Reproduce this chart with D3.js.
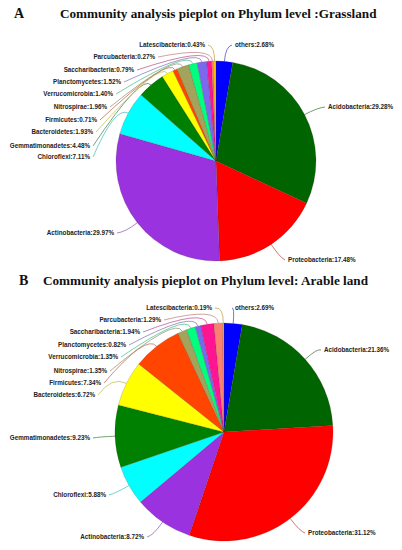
<!DOCTYPE html>
<html lang="en">
<head>
  <meta charset="UTF-8">
  <title>phylum pieplots</title>
  <script src="https://d3js.org/d3.v7.min.js"></script>
  <style>
    body { margin: 0; background: #fff; }
    .title { font-family: "Liberation Serif", "Times New Roman", serif; font-weight: bold; fill: #111; }
    .lbl { font-family: "Liberation Sans", Arial, sans-serif; font-weight: bold; font-size: 6.3px; fill: #222; }
  </style>
</head>
<body>
  <svg id="chart" width="402" height="550"></svg>

  <script>
    // data
    const phyla = ["others", "Acidobacteria", "Proteobacteria", "Actinobacteria", "Chloroflexi",
      "Gemmatimonadetes", "Bacteroidetes", "Firmicutes", "Nitrospirae", "Verrucomicrobia",
      "Planctomycetes", "Saccharibacteria", "Parcubacteria", "Latescibacteria"];
    const grassland = [2.68, 29.28, 17.48, 29.97, 7.11, 4.48, 1.93, 0.71, 1.96, 1.40, 1.52, 0.79, 0.27, 0.43];
    const arable = [2.69, 21.36, 31.12, 8.72, 5.88, 9.23, 6.72, 7.34, 1.35, 1.35, 0.82, 1.94, 1.29, 0.19];
    const colors = ["#0000FF", "#006400", "#FF0000", "#9A32E0", "#00FFFF",
      "#008000", "#FFFF00", "#FF4500", "#A3A35C", "#00FF7F",
      "#7B68EE", "#FF1493", "#FA8072", "#FFC000"];

    // label anchors [x, y, side]  (side 1 = text starts at x, -1 = text ends at x)
    const labelsA = [[235, 45, 1], [328, 107, 1], [288, 260, 1], [114, 233, -1], [90, 157, -1],
      [90, 146, -1], [93, 132, -1], [97, 120, -1], [107, 107, -1], [113, 94, -1],
      [121, 82, -1], [134, 70, -1], [155, 57, -1], [205, 45, -1]];
    const labelsB = [[235, 308, 1], [324, 350, 1], [308, 533, 1], [144, 537, -1], [106, 495, -1],
      [90, 438, -1], [95, 395, -1], [101, 383, -1], [107, 371, -1], [118, 357, -1],
      [126, 345, -1], [140, 332, -1], [161, 320, -1], [212, 308, -1]];

    const svg = d3.select("#chart");
    const color = d3.scaleOrdinal().domain(phyla).range(colors);

    // titles
    svg.append("text").attr("class", "title").attr("x", 14).attr("y", 18)
      .style("font-size", "14px").text("A");
    svg.append("text").attr("class", "title").attr("x", 60).attr("y", 18)
      .style("font-size", "13.2px").text("Community analysis pieplot on Phylum level :Grassland");
    svg.append("text").attr("class", "title").attr("x", 19).attr("y", 285)
      .style("font-size", "14px").text("B");
    svg.append("text").attr("class", "title").attr("x", 43).attr("y", 285)
      .style("font-size", "13.2px").text("Community analysis pieplot on Phylum level: Arable land");

    function drawPie(values, labels, cx, cy, r) {
      const rows = phyla.map((p, i) => ({ name: p, value: values[i] }));
      const pie = d3.pie().sort(null).value(d => d.value);
      const arcs = pie(rows);
      const arc = d3.arc().innerRadius(0).outerRadius(r);
      const g = svg.append("g").attr("transform", "translate(" + cx + "," + cy + ")");

      g.selectAll("path.slice").data(arcs)
        .join("path")
        .attr("class", "slice")
        .attr("d", arc)
        .attr("fill", d => color(d.data.name))
        .attr("stroke", "rgba(70,40,20,0.35)")
        .attr("stroke-width", 0.5);

      // leader lines, bent a little outward
      const pt = (a, k) => [Math.sin(a) * r * k, -Math.cos(a) * r * k];
      g.selectAll("path.lead").data(arcs)
        .join("path")
        .attr("class", "lead")
        .attr("fill", "none")
        .attr("stroke", d => d3.interpolateRgb(color(d.data.name), "#777")(0.5))
        .attr("stroke-width", 0.7)
        .attr("d", (d, i) => {
          const mid = (d.startAngle + d.endAngle) / 2;
          const L = labels[i];
          const sx = L[0] - cx + (L[2] > 0 ? -3 : 3), sy = L[1] - cy;
          const e = pt(mid, 1.0), c = pt(mid, 1.15);
          return "M" + sx + "," + sy + "Q" + c[0] + "," + c[1] + " " + e[0] + "," + e[1];
        });

      svg.selectAll(null).data(arcs)
        .join("text")
        .attr("class", "lbl")
        .attr("x", (d, i) => labels[i][0])
        .attr("y", (d, i) => labels[i][1])
        .attr("dy", "0.35em")
        .attr("text-anchor", (d, i) => labels[i][2] > 0 ? "start" : "end")
        .text(d => d.data.name + ":" + d.data.value.toFixed(2) + "%");
    }

    drawPie(grassland, labelsA, 216, 161, 100);
    drawPie(arable, labelsB, 224, 432, 109);
  </script>
</body>
</html>
